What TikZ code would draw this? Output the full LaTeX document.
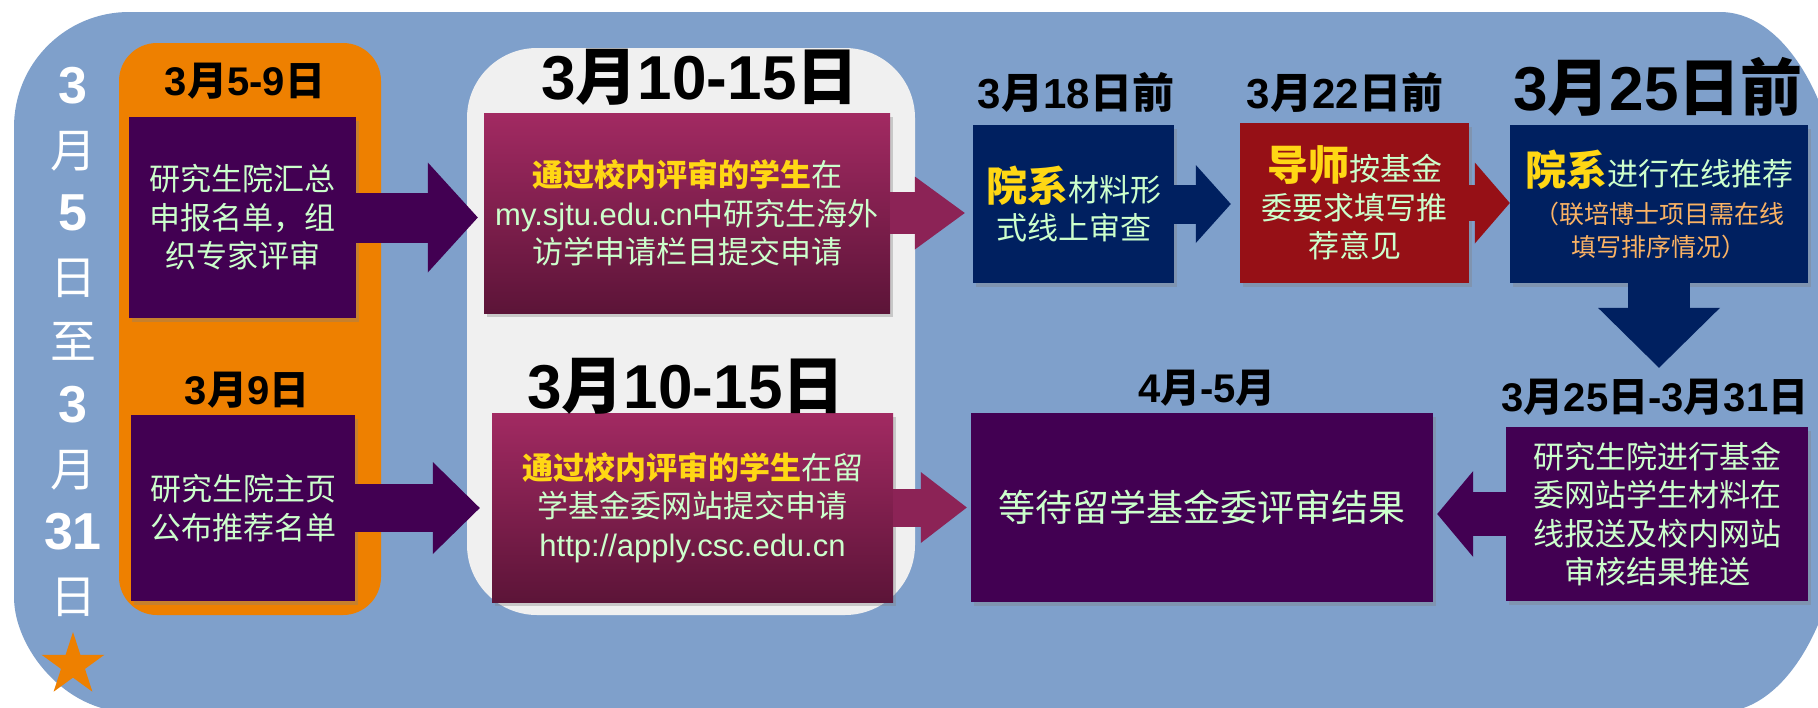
\documentclass[tikz,border=0pt]{standalone}
\usepackage{fontspec}
\setmainfont{Noto Sans CJK SC}
\newfontfamily\enf{Liberation Sans}
\usetikzlibrary{arrows.meta,shapes.geometric,shadows}

\definecolor{bgblue}{RGB}{127,160,203}
\definecolor{pnlorange}{RGB}{238,128,0}
\definecolor{pnlgray}{RGB}{240,240,240}
\definecolor{pur}{RGB}{66,0,82}
\definecolor{navy}{RGB}{0,32,96}
\definecolor{dred}{RGB}{150,16,22}
\definecolor{magtop}{RGB}{162,42,98}
\definecolor{magbot}{RGB}{92,20,56}
\definecolor{magarr}{RGB}{140,35,86}
\definecolor{txtgreen}{RGB}{204,255,204}
\definecolor{ylw}{RGB}{255,215,20}
\definecolor{noteorg}{RGB}{250,178,100}

\newcommand\en[1]{{\enf #1}}
\newcommand\yl[1]{{\color{ylw}\bfseries #1}}
\newcommand\bigy[1]{{\color{ylw}\bfseries\fontsize{41}{41}\selectfont #1}}
\newcommand\note[1]{{\color{noteorg}\fontsize{25}{32}\selectfont #1}}
\newcommand\vd[1]{{\enf\bfseries\fontsize{52}{63.8}\selectfont #1}}

\tikzset{
  box/.style={inner sep=0pt, align=center, text=txtgreen,
    font=\fontsize{31}{38.5}\selectfont,
    drop shadow={shadow xshift=3pt, shadow yshift=-4pt, opacity=0.35}},
  lbl/.style={inner sep=0pt, font=\bfseries\fontsize{42}{42}\selectfont},
  biglbl/.style={inner sep=0pt, font=\bfseries\fontsize{62}{62}\selectfont},
  bigarr/.style n args={4}{draw=#4, line width=#1pt,
    -{Triangle[width=#2pt, length=#3pt, line width=0pt]}},
}

\begin{document}
\begin{tikzpicture}[x=1pt, y=-1pt]
\useasboundingbox (0,0) rectangle (1818,707);
\fill[white] (0,0) rectangle (1818,707);

% background and panels
\begin{scope}
  \clip (0,0) rectangle (1818,707);
  \fill[bgblue] (129,12) -- (1720,12) .. controls (1789,12) and (1845,115) .. (1845,242)
    -- (1845,482) .. controls (1845,609) and (1789,712) .. (1720,712)
    -- (129,712) .. controls (65.5,712) and (14,648.5) .. (14,597)
    -- (14,127) .. controls (14,63.5) and (65.5,12) .. (129,12) -- cycle;
\end{scope}
\fill[pnlorange, rounded corners=38pt] (119,43) rectangle (381,615);
\fill[pnlgray, rounded corners=70pt] (467,48) rectangle (915,615);

% left column
\node[inner sep=0pt, align=center, text=white, font=\fontsize{46}{63.8}\selectfont] (days) at (73,342)
  {\vd{3}\\月\\\vd{5}\\日\\至\\\vd{3}\\月\\\vd{31}\\日};
\node[star, star points=5, star point ratio=2.618, minimum size=66pt, inner sep=0pt, fill=pnlorange] (star) at (73,665) {};

% boxes
\node[box, fill=pur, minimum width=227pt, minimum height=201pt] (b1) at (242.5,217.5)
  {研究生院汇总\\申报名单，组\\织专家评审};
\node[box, fill=pur, minimum width=224pt, minimum height=186pt] (b2) at (243,508)
  {研究生院主页\\公布推荐名单};
\node[box, top color=magtop, bottom color=magbot, minimum width=406pt, minimum height=200pt] (b3) at (687,213)
  {\yl{通过校内评审的学生}在\\\en{my.sjtu.edu.cn}中研究生海外\\访学申请栏目提交申请};
\node[box, top color=magtop, bottom color=magbot, minimum width=401pt, minimum height=189pt] (b5) at (692.5,507.5)
  {\yl{通过校内评审的学生}在留\\学基金委网站提交申请\\\en{http://apply.csc.edu.cn}};
\node[box, fill=navy, minimum width=201pt, minimum height=158pt] (b6) at (1073.5,204)
  {\bigy{院系}材料形\\式线上审查};
\node[box, fill=dred, minimum width=229pt, minimum height=160pt] (b7) at (1354.5,203)
  {\bigy{导师}按基金\\委要求填写推\\荐意见};
\node[box, fill=navy, minimum width=298pt, minimum height=158pt] (b8) at (1659,204)
  {\bigy{院系}进行在线推荐\\\note{（联培博士项目需在线}\\[-6pt]\note{填写排序情况）}};
\node[box, fill=pur, minimum width=302pt, minimum height=174pt] (b9) at (1657,514)
  {研究生院进行基金\\委网站学生材料在\\线报送及校内网站\\审核结果推送};
\node[box, fill=pur, minimum width=462pt, minimum height=189pt, font=\fontsize{37}{40}\selectfont] (bw) at (1202,507.5)
  {等待留学基金委评审结果};

% date labels
\node[lbl, font=\bfseries\fontsize{40}{40}\selectfont] (l1) at (245,81) {\en{3}月\en{5-9}日};
\node[lbl, font=\bfseries\fontsize{40}{40}\selectfont] (l2) at (247,390) {\en{3}月\en{9}日};
\node[biglbl] (l3) at (700,77) {\en{3}月\en{10-15}日};
\node[biglbl] (l5) at (686,386) {\en{3}月\en{10-15}日};
\node[lbl] (l6) at (1076,92) {\en{3}月\en{18}日前};
\node[lbl] (l7) at (1345,92) {\en{3}月\en{22}日前};
\node[biglbl] (l8) at (1658,87) {\en{3}月\en{25}日前};
\node[lbl, font=\bfseries\fontsize{40}{40}\selectfont] (lw) at (1207,388) {\en{4}月\en{-5}月};
\node[lbl, font=\bfseries\fontsize{40}{40}\selectfont] (l9) at (1655,397) {\en{3}月\en{25}日\en{-3}月\en{31}日};

% arrows
\draw[bigarr={50}{110}{50}{pur}, shorten >=6pt] (b1.east) -- (b1.east -| b3.west);
\draw[bigarr={48}{92}{47}{pur}, shorten >=12pt] (b2.east) -- (b2.east -| b5.west);
\draw[bigarr={42}{73}{50}{magarr}, shorten >=8pt] (b3.east) -- (b3.east -| b6.west);
\draw[bigarr={38}{71}{46}{magarr}, shorten >=4pt] (b5.east) -- (b5.east -| bw.west);
\draw[bigarr={39}{78}{35}{navy}, shorten >=9pt] (b6.east) -- (b6.east -| b7.west);
\draw[bigarr={36}{81}{35}{dred}] (b7.east) -- (b7.east -| b8.west);
\draw[bigarr={62}{122}{60}{navy}, shorten >=59pt] (b8.south) -- (b8.south |- b9.north);
\draw[bigarr={44}{86}{36}{pur}, shorten >=4pt] (b9.west) -- (b9.west -| bw.east);
\end{tikzpicture}
\end{document}
